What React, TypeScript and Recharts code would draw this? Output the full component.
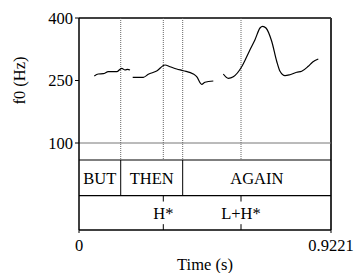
import React from 'react';
import { ComposedChart, Line, XAxis, YAxis, ReferenceLine, ReferenceArea } from 'recharts';

// Pitch contour segments (time in s, f0 in Hz)
const contour1 = [
  { t: 0.056, f0: 261 }, { t: 0.0706, f0: 265.6 }, { t: 0.0889, f0: 266.3 },
  { t: 0.1072, f0: 271.1 }, { t: 0.1379, f0: 271.1 }, { t: 0.1562, f0: 279.3 },
  { t: 0.1683, f0: 275.2 }, { t: 0.1782, f0: 276.9 }, { t: 0.1866, f0: 275.2 },
];
const contour2 = [
  { t: 0.1965, f0: 257.7 }, { t: 0.2353, f0: 257.7 }, { t: 0.2536, f0: 264.9 },
  { t: 0.2843, f0: 272.8 }, { t: 0.3147, f0: 287.2 }, { t: 0.333, f0: 283.1 },
  { t: 0.3575, f0: 277.6 }, { t: 0.3816, f0: 273.5 }, { t: 0.4182, f0: 265.6 },
  { t: 0.4307, f0: 259.1 }, { t: 0.449, f0: 240.9 }, { t: 0.461, f0: 245.7 },
  { t: 0.4914, f0: 248.8 },
];
const contour3 = [
  { t: 0.528, f0: 265.6 }, { t: 0.5463, f0: 255.3 }, { t: 0.5646, f0: 259.1 },
  { t: 0.5953, f0: 283.1 }, { t: 0.6136, f0: 307.1 }, { t: 0.6257, f0: 323.9 },
  { t: 0.644, f0: 347.9 }, { t: 0.6623, f0: 376 }, { t: 0.6722, f0: 380.1 },
  { t: 0.6842, f0: 376 }, { t: 0.7051, f0: 344.1 }, { t: 0.7234, f0: 296.1 },
  { t: 0.7355, f0: 272.1 }, { t: 0.7538, f0: 261.5 }, { t: 0.7721, f0: 263.9 },
  { t: 0.7966, f0: 269.7 }, { t: 0.8149, f0: 272.1 }, { t: 0.839, f0: 284.1 },
  { t: 0.8551, f0: 294.4 }, { t: 0.8756, f0: 301.6 },
];

// Annotation tiers
const words = [
  { label: 'BUT', start: 0, end: 0.1526 },
  { label: 'THEN', start: 0.1526, end: 0.3794 },
  { label: 'AGAIN', start: 0.3794, end: 0.9221 },
];
const tones = [
  { label: 'H*', t: 0.3085 },
  { label: 'L+H*', t: 0.5928 },
];
const dottedTimes = [0.1526, 0.3085, 0.3794, 0.5928];

const xTicks = [0, 0.9221];
const xTickLabels = ['0', '0.9221'];
const yTicks = [100, 250, 400];
const T_END = 0.9221;
const F_MAX = 400;
const F_FLOOR = 100;

// layout (in y-scale units, below the pitch window)
const TIER1_TOP = 59.2;
const TIER2_TOP = -26.5;
const TIER2_BOTTOM = -108.8;
const TICK_LEN = 14;

const FONT = 16.5;
const FAMILY = '"Liberation Serif", "Times New Roman", Times, serif';

const yLabel = (props: any) => {
  const vb = props.viewBox || {};
  const cx = 19.5;
  const cy = (vb.y ?? 18) + 62.5;
  return (
    <text x={cx} y={cy} transform={`rotate(-90 ${cx} ${cy})`} textAnchor="middle" dominantBaseline="central" fontSize={FONT} fontFamily={FAMILY} fill="#000">
      f0 (Hz)
    </text>
  );
};

const xLabel = (props: any) => {
  const vb = props.viewBox || {};
  const cx = (vb.x ?? 79) + (vb.width ?? 252) / 2;
  return (
    <text x={cx} y={270} textAnchor="middle" fontSize={FONT} fontFamily={FAMILY} fill="#000">
      Time (s)
    </text>
  );
};

const fmtX = (v: number) => {
  const i = xTicks.indexOf(v);
  return i >= 0 ? xTickLabels[i] : String(v);
};

export default function App() {
  return (
    <div style={{ position: 'absolute', left: 0, top: 0, width: 354, height: 273, overflow: 'hidden', fontFamily: FAMILY }}>
      <ComposedChart width={354} height={273} margin={{ top: 18, right: 23, bottom: 0, left: 39 }} style={{ overflow: 'visible', fontFamily: FAMILY }}>
        <XAxis
          type="number"
          dataKey="t"
          domain={[0, T_END]}
          ticks={xTicks}
          allowDataOverflow
          tickFormatter={fmtX}
          tick={{ fill: '#000', fontSize: FONT, fontFamily: FAMILY }}
          tickLine={{ stroke: '#000' }}
          axisLine={{ stroke: '#000', strokeWidth: 1.5 }}
          tickSize={3}
          tickMargin={6}
          height={43}
          label={{ content: xLabel }}
        />
        <YAxis
          type="number"
          domain={[TIER2_BOTTOM, F_MAX]}
          ticks={yTicks}
          allowDataOverflow
          tick={{ fill: '#000', fontSize: FONT, fontFamily: FAMILY }}
          tickLine={{ stroke: '#000' }}
          axisLine={{ stroke: '#000', strokeWidth: 1.5 }}
          tickSize={4}
          tickMargin={2}
          width={40}
          label={{ content: yLabel }}
        />
        <ReferenceLine y={F_MAX} stroke="#000" strokeWidth={1.5} />
        <ReferenceLine x={T_END} stroke="#333" strokeWidth={2} />
        <ReferenceLine y={F_FLOOR} stroke="#777" strokeWidth={1} />
        <ReferenceLine y={TIER1_TOP} stroke="#000" strokeWidth={1.2} />
        <ReferenceLine y={TIER2_TOP} stroke="#000" strokeWidth={1.2} />
        {dottedTimes.map((t) => (
          <ReferenceLine
            key={'d' + t}
            segment={[{ x: t, y: F_MAX }, { x: t, y: TIER1_TOP }]}
            stroke="#666"
            strokeDasharray="1 1"
            strokeWidth={1}
          />
        ))}
        {words.slice(1).map((w) => (
          <ReferenceLine
            key={'wb' + w.label}
            segment={[{ x: w.start, y: TIER1_TOP }, { x: w.start, y: TIER2_TOP }]}
            stroke="#000"
            strokeWidth={1}
          />
        ))}
        {words.map((w) => (
          <ReferenceArea
            key={'w' + w.label}
            x1={w.start}
            x2={w.end}
            y1={TIER2_TOP}
            y2={TIER1_TOP}
            fill="none"
            fillOpacity={0}
            stroke="none"
            label={{ value: w.label, position: 'center', fill: '#000', fontSize: FONT, fontFamily: FAMILY }}
          />
        ))}
        {tones.map((tn) => (
          <ReferenceLine
            key={'tt' + tn.label}
            segment={[{ x: tn.t, y: TIER2_TOP }, { x: tn.t, y: TIER2_TOP - TICK_LEN }]}
            stroke="#000"
            strokeWidth={1}
          />
        ))}
        {tones.map((tn) => (
          <ReferenceLine
            key={'tb' + tn.label}
            segment={[{ x: tn.t, y: TIER2_BOTTOM }, { x: tn.t, y: TIER2_BOTTOM + TICK_LEN }]}
            stroke="#000"
            strokeWidth={1}
          />
        ))}
        {tones.map((tn) => (
          <ReferenceArea
            key={'tl' + tn.label}
            x1={tn.t - 0.05}
            x2={tn.t + 0.05}
            y1={TIER2_BOTTOM}
            y2={TIER2_TOP}
            fill="none"
            fillOpacity={0}
            stroke="none"
            label={{ value: tn.label, position: 'center', fill: '#000', fontSize: FONT, fontFamily: FAMILY }}
          />
        ))}
        <Line data={contour1} dataKey="f0" type="monotone" stroke="#000" strokeWidth={1.2} dot={false} isAnimationActive={false} />
        <Line data={contour2} dataKey="f0" type="monotone" stroke="#000" strokeWidth={1.2} dot={false} isAnimationActive={false} />
        <Line data={contour3} dataKey="f0" type="monotone" stroke="#000" strokeWidth={1.2} dot={false} isAnimationActive={false} />
      </ComposedChart>
    </div>
  );
}
